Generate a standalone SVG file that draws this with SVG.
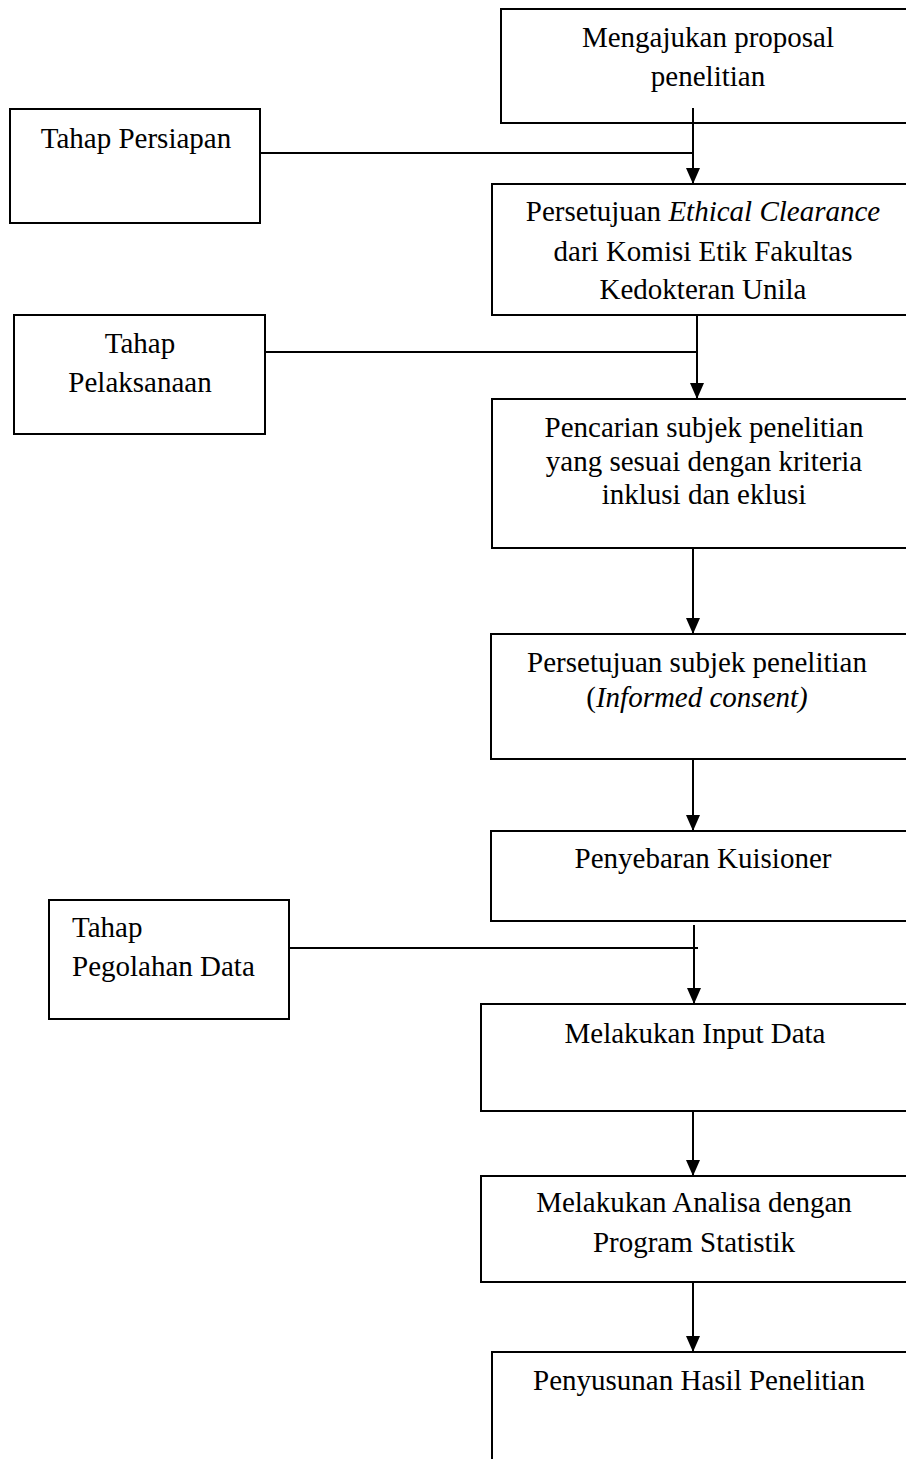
<svg xmlns="http://www.w3.org/2000/svg" width="906" height="1459" viewBox="0 0 906 1459">
<style>
.box{fill:#fff;stroke:#000;stroke-width:2}
.t{font-family:"Liberation Serif","Times New Roman",serif;font-size:29px;fill:#000}
.c{text-anchor:middle}
.ln{stroke:#000;stroke-width:2;fill:none}
</style>
<defs>
<marker id="ah" markerUnits="userSpaceOnUse" markerWidth="16" markerHeight="14" refX="16" refY="7" orient="auto" viewBox="0 0 16 14">
<path d="M0,0 L16,7 L0,14 Z" fill="#000"/>
</marker>
</defs>
<rect width="906" height="1459" fill="#fff"/>
<g id="n1"><rect class="box" x="501" y="9" width="420" height="114"/>
<text class="t c" x="708" y="47">Mengajukan proposal</text><text class="t c" x="708" y="86">penelitian</text></g>
<g id="n2"><rect class="box" x="492" y="184" width="429" height="131"/>
<text class="t c" x="703" y="221">Persetujuan <tspan font-style="italic">Ethical Clearance</tspan></text>
<text class="t c" x="703" y="261">dari Komisi Etik Fakultas</text>
<text class="t c" x="703" y="299">Kedokteran Unila</text></g>
<g id="n3"><rect class="box" x="492" y="399" width="429" height="149"/>
<text class="t c" x="704" y="437">Pencarian subjek penelitian</text>
<text class="t c" x="704" y="471">yang sesuai dengan kriteria</text>
<text class="t c" x="704" y="504">inklusi dan eklusi</text></g>
<g id="n4"><rect class="box" x="491" y="634" width="430" height="125"/>
<text class="t c" x="697" y="672">Persetujuan subjek penelitian</text>
<text class="t c" x="697" y="707">(<tspan font-style="italic">Informed consent)</tspan></text></g>
<g id="n5"><rect class="box" x="491" y="831" width="430" height="90"/>
<text class="t c" x="703" y="868">Penyebaran Kuisioner</text></g>
<g id="n6"><rect class="box" x="481" y="1004" width="440" height="107"/>
<text class="t c" x="695" y="1043">Melakukan Input Data</text></g>
<g id="n7"><rect class="box" x="481" y="1176" width="440" height="106"/>
<text class="t c" x="694" y="1212">Melakukan Analisa dengan</text>
<text class="t c" x="694" y="1252">Program Statistik</text></g>
<g id="n8"><rect class="box" x="492" y="1352" width="429" height="130"/>
<text class="t c" x="699" y="1390">Penyusunan Hasil Penelitian</text></g>
<g id="s1"><rect class="box" x="10" y="109" width="250" height="114"/>
<text class="t c" x="136" y="148">Tahap Persiapan</text></g>
<g id="s2"><rect class="box" x="14" y="315" width="251" height="119"/>
<text class="t c" x="140" y="353">Tahap</text><text class="t c" x="140" y="392">Pelaksanaan</text></g>
<g id="s3"><rect class="box" x="49" y="900" width="240" height="119"/>
<text class="t" x="72" y="937">Tahap</text><text class="t" x="72" y="976">Pegolahan Data</text></g>
<g id="connectors">
<line class="ln" x1="260" y1="153" x2="693" y2="153"/>
<line class="ln" x1="693" y1="108" x2="693" y2="184" marker-end="url(#ah)"/>
<line class="ln" x1="265" y1="352" x2="697" y2="352"/>
<line class="ln" x1="697" y1="315" x2="697" y2="399" marker-end="url(#ah)"/>
<line class="ln" x1="693" y1="548" x2="693" y2="634" marker-end="url(#ah)"/>
<line class="ln" x1="693" y1="759" x2="693" y2="831" marker-end="url(#ah)"/>
<line class="ln" x1="289" y1="948" x2="698" y2="948"/>
<line class="ln" x1="694" y1="925" x2="694" y2="1004" marker-end="url(#ah)"/>
<line class="ln" x1="693" y1="1111" x2="693" y2="1176" marker-end="url(#ah)"/>
<line class="ln" x1="693" y1="1282" x2="693" y2="1352" marker-end="url(#ah)"/>
</g>
</svg>
